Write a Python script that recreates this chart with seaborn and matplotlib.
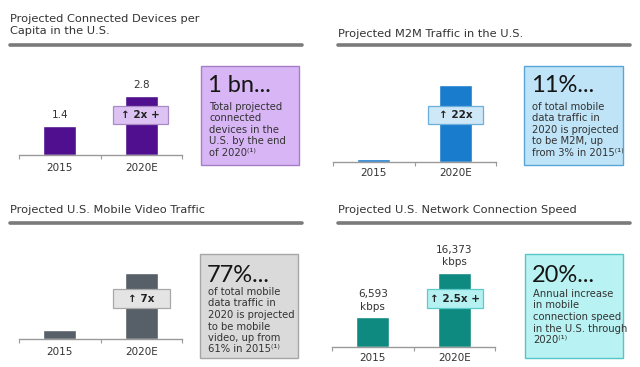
import matplotlib
matplotlib.use("Agg")
import matplotlib.pyplot as plt
import seaborn as sns
import pandas as pd
from matplotlib.patches import Rectangle
from matplotlib.ticker import FixedLocator

sns.set_theme(style="white")
plt.rcParams['font.family'] = ['DejaVu Sans']

# ---------------- data ----------------
years = ['2015', '2020E']
devices_per_capita = [1.4, 2.8]
devices_labels = ['1.4', '2.8']
m2m_index = [1, 22]          # relative (22x growth)
video_index = [1, 7]         # relative (7x growth)
speed_kbps = [6593, 16373]
speed_labels = ['6,593\nkbps', '16,373\nkbps']

titles = ['Projected Connected Devices per\nCapita in the U.S.',
          'Projected M2M Traffic in the U.S.',
          'Projected U.S. Mobile Video Traffic',
          'Projected U.S. Network Connection Speed']
badges = ['↑ 2x +', '↑ 22x', '↑ 7x', '↑ 2.5x +']
big_numbers = ['1 bn...', '11%...', '77%...', '20%...']
box_texts = [
    ['Total projected', 'connected', 'devices in the', 'U.S. by the end', 'of 2020⁽¹⁾'],
    ['of total mobile', 'data traffic in', '2020 is projected', 'to be M2M, up', 'from 3% in 2015⁽¹⁾'],
    ['of total mobile', 'data traffic in', '2020 is projected', 'to be mobile', 'video, up from', '61% in 2015⁽¹⁾'],
    ['Annual increase', 'in mobile', 'connection speed', 'in the U.S. through', '2020⁽¹⁾'],
]

# ---------------- layout / style ----------------
W, H = 640, 367
fig = plt.figure(figsize=(W / 100, H / 100), dpi=100)
fig.patch.set_facecolor('white')

TXT = '#333333'

panels = [
    dict(vals=devices_per_capita, labels=devices_labels, color='#4f0f8f',
         ax_x=(19, 182), base=155, bar_px=59, ax_h=100,
         title_xy=(10, 14), rule=(10, 302, 45),
         badge=(113, 106, 168, 124), badge_fc='#ddc3f3', badge_ec='#a98ac6',
         box=(201, 66, 299, 165), box_fc='#d8b5f5', box_ec='#a47fc7',
         big_y=86, lines_y0=107, tick_y=168),
    dict(vals=m2m_index, labels=None, color='#1a7ccd',
         ax_x=(333, 496), base=162, bar_px=77, ax_h=100,
         title_xy=(338, 33), rule=(338, 630, 45),
         badge=(428, 106, 483, 124), badge_fc='#cfe8f8', badge_ec='#6aaedc',
         box=(524, 66, 623, 165), box_fc='#bfe3f7', box_ec='#5aa6d8',
         big_y=86, lines_y0=107, tick_y=173),
    dict(vals=video_index, labels=None, color='#575f69',
         ax_x=(19, 182), base=339, bar_px=66, ax_h=100,
         title_xy=(10, 209), rule=(10, 302, 223),
         badge=(113, 289, 170, 308), badge_fc='#e4e4e4', badge_ec='#a8a8a8',
         box=(200, 254, 298, 358), box_fc='#dadada', box_ec='#a6a6a6',
         big_y=275, lines_y0=292, tick_y=352),
    dict(vals=speed_kbps, labels=speed_labels, color='#0f8a80',
         ax_x=(332, 495), base=347, bar_px=74, ax_h=110,
         title_xy=(338, 209), rule=(338, 630, 223),
         badge=(427, 289, 483, 308), badge_fc='#b5f1f1', badge_ec='#5ccaca',
         box=(525, 254, 623, 358), box_fc='#b9f2f2', box_ec='#55c6c6',
         big_y=275, lines_y0=294, tick_y=358),
]


def fx(x):
    return x / W


def fy(y):
    return 1 - y / H


def rect(x0, y0, x1, y1, fc, ec, lw=1.0, z=5):
    r = Rectangle((fx(x0), fy(y1)), (x1 - x0) / W, (y1 - y0) / H,
                  transform=fig.transFigure, facecolor=fc, edgecolor=ec,
                  linewidth=lw, zorder=z)
    fig.add_artist(r)


for i, p in enumerate(panels):
    x0, x1 = p['ax_x']
    ax = fig.add_axes([fx(x0), fy(p['base']), (x1 - x0) / W, p['ax_h'] / H])
    df = pd.DataFrame({'year': years, 'value': p['vals']})
    sns.barplot(data=df, x='year', y='value', color=p['color'],
                saturation=1, width=0.4, ax=ax)
    ax.set_xlim(-0.5, 1.5)
    vmax = max(p['vals'])
    ax.set_ylim(0, vmax * p['ax_h'] / p['bar_px'])
    ax.set_xlabel('')
    ax.set_ylabel('')
    ax.set_yticks([])
    ax.patch.set_alpha(0)
    for s in ['left', 'right', 'top']:
        ax.spines[s].set_visible(False)
    ax.spines['bottom'].set_color('#9a9a9a')
    ax.spines['bottom'].set_linewidth(1.0)
    ax.tick_params(axis='x', which='major', length=0, labelsize=7.5,
                   labelcolor=TXT, pad=(p['tick_y'] - p['base']) * 0.72 - 3.5)
    ax.xaxis.set_minor_locator(FixedLocator([-0.5, 0.5, 1.5]))
    ax.tick_params(axis='x', which='minor', length=3, width=0.8,
                   color='#9a9a9a', direction='out', bottom=True)
    if p['labels'] is not None:
        for j, (v, lab) in enumerate(zip(p['vals'], p['labels'])):
            ax.annotate(lab, (j, v), xytext=(0, 4), textcoords='offset points',
                        ha='center', va='bottom', fontsize=7.5, color=TXT,
                        linespacing=1.35)

    # title and rule
    tx, ty = p['title_xy']
    multi = '\n' in titles[i]
    fig.text(fx(tx), fy(ty), titles[i], ha='left',
             va='top' if multi else 'center_baseline',
             fontsize=8.2, color=TXT, linespacing=1.3)
    rx0, rx1, ry = p['rule']
    fig.add_artist(plt.Line2D([fx(rx0), fx(rx1)], [fy(ry), fy(ry)],
                              transform=fig.transFigure, color='#7a7a7a', lw=2.6))

    # badge over the 2020E bar
    bx0, by0, bx1, by1 = p['badge']
    rect(bx0, by0, bx1, by1, p['badge_fc'], p['badge_ec'], lw=0.9, z=6)
    fig.text(fx((bx0 + bx1) / 2), fy((by0 + by1) / 2), badges[i], ha='center',
             va='center', fontsize=7.5, fontweight='bold', color='#222222', zorder=7)

    # side box
    cx0, cy0, cx1, cy1 = p['box']
    rect(cx0, cy0, cx1, cy1, p['box_fc'], p['box_ec'], lw=1.0, z=4)
    fig.text(fx(cx0 + 7), fy(p['big_y']), big_numbers[i], ha='left', va='center',
             fontsize=17, color='#151515', family='Lato', fontweight='normal', zorder=6)
    for k, line in enumerate(box_texts[i]):
        fig.text(fx(cx0 + 8), fy(p['lines_y0'] + k * 11.5), line, ha='left',
                 va='center', fontsize=7.2, color=TXT, zorder=6)

fig.savefig('out.png', dpi=100, facecolor='white')
